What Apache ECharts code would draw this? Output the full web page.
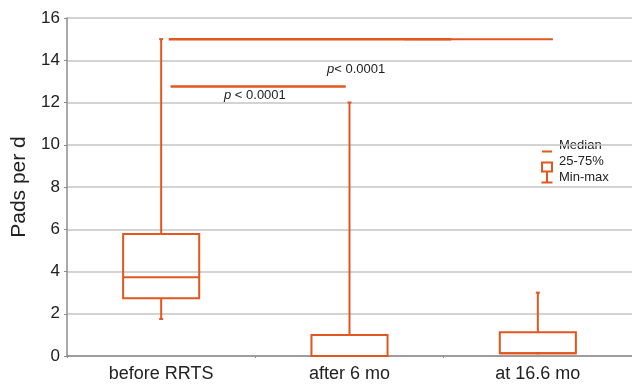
<!DOCTYPE html>
<html lang="en">
<head>
    <meta charset="UTF-8">
    <title>Pads per d</title>
    <script src="https://cdn.jsdelivr.net/npm/echarts@6/dist/echarts.min.js"></script>
    <style>
        html, body { margin: 0; padding: 0; background: #fff; }
    </style>
</head>
<body>
<div id="main" style="width:632px; height:384px;"></div>
<script>
    // categories and box values: min, Q1, median, Q3, max
    var categories = ['before RRTS', 'after 6 mo', 'at 16.6 mo'];
    var boxMin = [1.75, 0, 0.13];
    var boxQ1 = [2.73, 0, 0.13];
    var boxMedian = [3.73, 0, 0.13];
    var boxQ3 = [5.77, 1.0, 1.12];
    var boxMax = [15, 12, 3.0];

    // comparison bars (x in category units, y in pads per d)
    var barA = [[0.04, 15], [1.54, 15]];
    var barB = [[1.29, 15], [2.08, 15]];
    var barC = [[0.05, 12.76], [0.98, 12.76]];

    var orange = '#e2571e';
    var font = '"Liberation Sans", Arial, sans-serif';

    var boxData = [];
    for (var i = 0; i < categories.length; i++) {
        boxData.push([i, boxMin[i], boxQ1[i], boxMedian[i], boxQ3[i], boxMax[i]]);
    }

    function renderBox(params, api) {
        var x = api.value(0);
        var pMin = api.coord([x, api.value(1)]);
        var pQ1 = api.coord([x, api.value(2)]);
        var pMed = api.coord([x, api.value(3)]);
        var pQ3 = api.coord([x, api.value(4)]);
        var pMax = api.coord([x, api.value(5)]);
        var half = api.size([1, 0])[0] * 0.202;
        var cx = pMed[0];
        var st = {stroke: orange, lineWidth: 2, fill: null};
        var kids = [
            {type: 'line', shape: {x1: cx, y1: pQ3[1], x2: cx, y2: pMax[1]}, style: st},
            {type: 'line', shape: {x1: cx - 2, y1: pMax[1], x2: cx + 2, y2: pMax[1]}, style: st},
            {type: 'line', shape: {x1: cx, y1: pQ1[1], x2: cx, y2: pMin[1]}, style: st},
            {type: 'line', shape: {x1: cx - 2, y1: pMin[1], x2: cx + 2, y2: pMin[1]}, style: st},
            {type: 'rect', shape: {x: cx - half, y: pQ3[1], width: half * 2, height: pQ1[1] - pQ3[1]},
                style: {stroke: orange, lineWidth: 2, fill: 'rgba(0,0,0,0)'}},
            {type: 'line', shape: {x1: cx - half, y1: pMed[1], x2: cx + half, y2: pMed[1]}, style: st}
        ];
        return {type: 'group', children: kids};
    }

    var myChart = echarts.init(document.getElementById('main'));
    var option = {
        animation: false,
        textStyle: {fontFamily: font},
        grid: {left: 67, right: 0, top: 18, bottom: 28},
        xAxis: [
            {
                type: 'category',
                data: categories,
                axisLine: {lineStyle: {color: '#8c8c8c', width: 1.5}},
                axisTick: {show: true, length: 2, lineStyle: {color: '#8c8c8c'}},
                axisLabel: {fontSize: 18, color: '#222', margin: 9, fontFamily: font}
            },
            {
                type: 'value',
                min: -0.5,
                max: 2.5,
                show: false
            }
        ],
        yAxis: {
            type: 'value',
            min: 0,
            max: 16,
            interval: 2,
            name: 'Pads per d',
            nameLocation: 'middle',
            nameGap: 35,
            nameTextStyle: {fontSize: 21, color: '#222', fontFamily: font},
            axisLine: {show: true, onZero: false, lineStyle: {color: '#8c8c8c', width: 1.5}},
            axisTick: {show: true, length: 3, lineStyle: {color: '#8c8c8c'}},
            axisLabel: {fontSize: 17, color: '#222', margin: 7, fontFamily: font},
            splitLine: {lineStyle: {color: '#c4c4c4', width: 1.5}}
        },
        series: [
            {
                type: 'custom',
                xAxisIndex: 0,
                renderItem: renderBox,
                data: boxData,
                z: 3
            },
            {
                type: 'line', xAxisIndex: 1, data: barA, showSymbol: false,
                lineStyle: {color: orange, width: 2.5}, z: 4
            },
            {
                type: 'line', xAxisIndex: 1, data: barB, showSymbol: false,
                lineStyle: {color: orange, width: 2}, z: 4
            },
            {
                type: 'line', xAxisIndex: 1, data: barC, showSymbol: false,
                lineStyle: {color: orange, width: 2.5}, z: 4
            }
        ],
        graphic: [
            {
                type: 'text', x: 327, y: 69,
                style: {
                    text: '{i|p}< 0.0001', fontSize: 13, fill: '#222', fontFamily: font,
                    verticalAlign: 'middle',
                    rich: {i: {fontStyle: 'italic', fontSize: 13, fontFamily: font, fill: '#222'}}
                }
            },
            {
                type: 'text', x: 224, y: 95,
                style: {
                    text: '{i|p} < 0.0001', fontSize: 13, fill: '#222', fontFamily: font,
                    verticalAlign: 'middle',
                    rich: {i: {fontStyle: 'italic', fontSize: 13, fontFamily: font, fill: '#222'}}
                }
            },
            // legend
            {type: 'line', shape: {x1: 542, y1: 151.5, x2: 552, y2: 151.5}, style: {stroke: orange, lineWidth: 2}},
            {type: 'rect', shape: {x: 542, y: 162.5, width: 10, height: 9}, style: {stroke: orange, lineWidth: 2, fill: 'none'}},
            {type: 'line', shape: {x1: 547, y1: 171.5, x2: 547, y2: 182.5}, style: {stroke: orange, lineWidth: 2}},
            {type: 'line', shape: {x1: 541.5, y1: 182.5, x2: 552.5, y2: 182.5}, style: {stroke: orange, lineWidth: 2}},
            {type: 'text', x: 559, y: 145, style: {text: 'Median', fontSize: 13, fill: '#222', fontFamily: font, verticalAlign: 'middle'}},
            {type: 'text', x: 559, y: 161.5, style: {text: '25-75%', fontSize: 13, fill: '#222', fontFamily: font, verticalAlign: 'middle'}},
            {type: 'text', x: 559, y: 177, style: {text: 'Min-max', fontSize: 13, fill: '#222', fontFamily: font, verticalAlign: 'middle'}}
        ]
    };
    myChart.setOption(option);
</script>
</body>
</html>
